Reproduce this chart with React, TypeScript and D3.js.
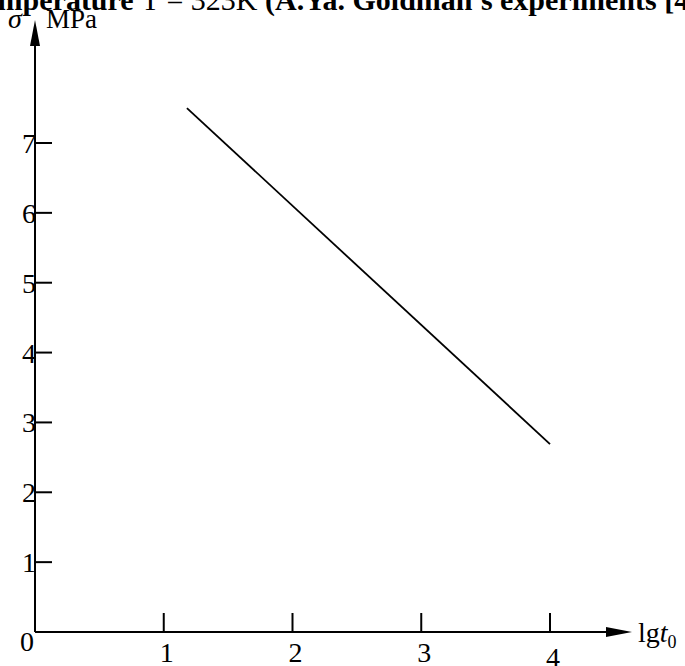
import * as d3 from "d3";
import React from "react";

const xTicks = [1, 2, 3, 4];
const yTicks = [1, 2, 3, 4, 5, 6, 7];
const lineLgt = [1.18, 4];
const lineSigma = [7.5, 2.69];
const titleText = "Temperature ";
const titleTemp = "T = 323K ";
const titleTail = "(A.Ya. Goldman's experiments [4]";

const W = 685;
const H = 666;
const serif = "'Times New Roman', 'Liberation Serif', serif";

export default function App() {
  const x = d3.scaleLinear().domain([0, 4]).range([35, 550]);
  const y = d3.scaleLinear().domain([0, 7]).range([632, 143]);

  const points = lineLgt.map((v, i) => [x(v), y(lineSigma[i])] as [number, number]);
  const path = d3.line()(points) || "";

  const x0 = x(0);
  const y0 = y(0);

  return (
    <svg
      width={W}
      height={H}
      style={{ position: "absolute", left: 0, top: 0, background: "white" }}
      fontFamily={serif}
    >
      {/* title, clipped at the top like the scan */}
      <text x={-33} y={10} fontSize={30} fontWeight="bold">
        {titleText}
        <tspan fontWeight="normal">{titleTemp}</tspan>
        {titleTail}
      </text>

      {/* axes */}
      <line x1={x0} y1={y0} x2={x0} y2={44} stroke="black" strokeWidth={2} />
      <path d={`M${x0},20 L${x0 - 5},46 L${x0 + 5},46 Z`} fill="black" />
      <line x1={x0} y1={y0} x2={608} y2={y0} stroke="black" strokeWidth={2} />
      <path d={`M632,${y0} L606,${y0 - 5} L606,${y0 + 5} Z`} fill="black" />

      {/* y ticks */}
      {yTicks.map(t => (
        <g key={t} transform={`translate(${x0}, ${y(t)})`}>
          <line x1={0} x2={17} stroke="black" strokeWidth={2} />
          <text x={1} y={10} textAnchor="end" fontSize={28}>{t}</text>
        </g>
      ))}

      {/* x ticks */}
      {xTicks.map(t => (
        <g key={t} transform={`translate(${x(t)}, ${y0})`}>
          <line y1={0} y2={-19} stroke="black" strokeWidth={2} />
          <text x={3} y={t === 4 ? 35 : 30} textAnchor="middle" fontSize={28}>{t}</text>
        </g>
      ))}
      <text x={x0 - 1} y={y0 + 19} textAnchor="end" fontSize={28}>0</text>

      {/* axis labels */}
      <text x={8} y={28} fontSize={28} fontStyle="italic">σ</text>
      <text x={46} y={28} fontSize={27}>MPa</text>
      <text x={638} y={y0 + 10} fontSize={28}>
        lg<tspan fontStyle="italic">t</tspan>
        <tspan fontSize={18} dy={6}>0</tspan>
      </text>

      {/* data line */}
      <path d={path} fill="none" stroke="black" strokeWidth={1.8} />
    </svg>
  );
}
